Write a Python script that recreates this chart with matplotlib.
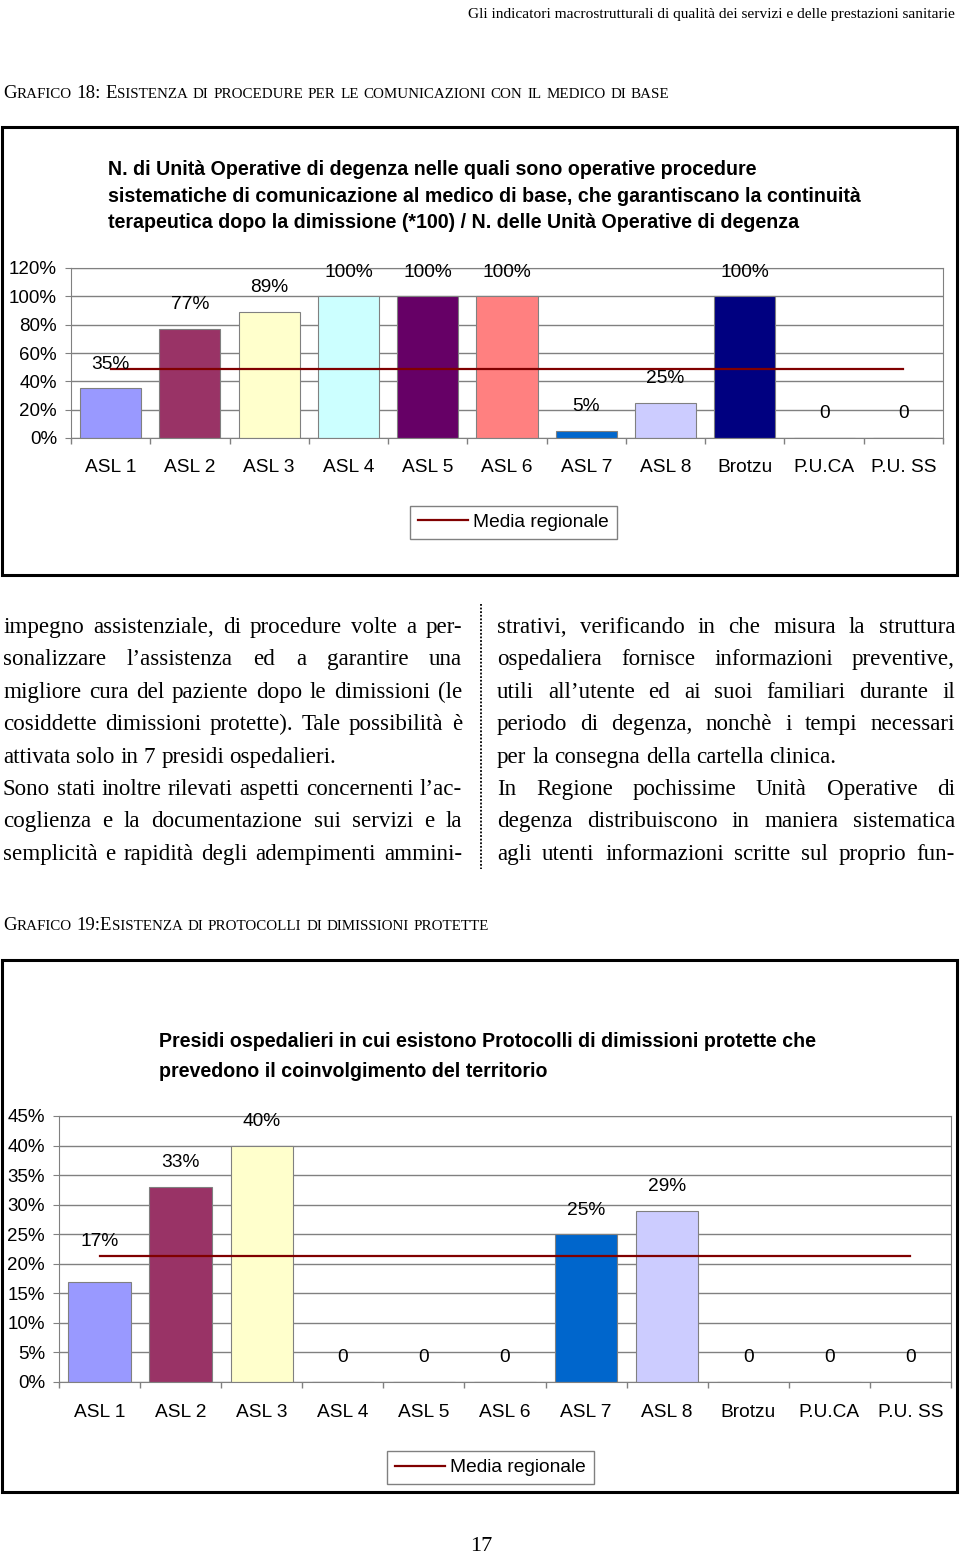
import numpy as np
import matplotlib
matplotlib.use('Agg')
import matplotlib.pyplot as plt
from matplotlib.patches import Rectangle
from matplotlib.lines import Line2D
from matplotlib.ticker import FuncFormatter

W, H = 960, 1554

# dati
categories = ["ASL 1", "ASL 2", "ASL 3", "ASL 4", "ASL 5", "ASL 6", "ASL 7", "ASL 8",
              "Brotzu", "P.U.CA", "P.U. SS"]
bar_colors = ['#9999FF', '#993366', '#FFFFCC', '#CCFFFF', '#660066', '#FF8080',
              '#0066CC', '#CCCCFF', '#000080', '#FFFFFF', '#FFFFFF']
g18_values = [0.35, 0.77, 0.89, 1.00, 1.00, 1.00, 0.05, 0.25, 1.00, 0, 0]
g18_media = 0.487
g19_values = [0.17, 0.33, 0.40, 0, 0, 0, 0.25, 0.29, 0, 0, 0]
g19_media = 0.213

header = "Gli indicatori macrostrutturali di qualità dei servizi e delle prestazioni sanitarie"
heading18 = "Grafico 18: Esistenza di procedure per le comunicazioni con il medico di base"
heading19 = "Grafico 19:Esistenza di protocolli di dimissioni protette"
title18 = ["N. di Unità Operative di degenza nelle quali sono operative procedure",
           "sistematiche di comunicazione al medico di base, che garantiscano la continuità",
           "terapeutica dopo la dimissione (*100) / N. delle Unità Operative di degenza"]
title19 = ["Presidi ospedalieri in cui esistono Protocolli di dimissioni protette che",
           "prevedono il coinvolgimento del territorio"]
col_left = ["impegno assistenziale, di procedure volte a per-",
            "sonalizzare l’assistenza ed a garantire una",
            "migliore cura del paziente dopo le dimissioni (le",
            "cosiddette dimissioni protette). Tale possibilità è",
            "attivata solo in 7 presidi ospedalieri.",
            "Sono stati inoltre rilevati aspetti concernenti l’ac-",
            "coglienza e la documentazione sui servizi e la",
            "semplicità e rapidità degli adempimenti ammini-"]
col_right = ["strativi, verificando in che misura la struttura",
             "ospedaliera fornisce informazioni preventive,",
             "utili all’utente ed ai suoi familiari durante il",
             "periodo di degenza, nonchè i tempi necessari",
             "per la consegna della cartella clinica.",
             "In Regione pochissime Unità Operative di",
             "degenza distribuiscono in maniera sistematica",
             "agli utenti informazioni scritte sul proprio fun-"]
# righe non giustificate (fine paragrafo)
last_lines = [4]

plt.rcParams['font.family'] = ['Liberation Sans', 'DejaVu Sans']
SERIF = ['Liberation Serif', 'DejaVu Serif']

fig = plt.figure(figsize=(W / 100, H / 100), dpi=100)
renderer = fig.canvas.get_renderer()


def fx(x):
    return x / W


def fy(y):
    return 1 - y / H


def tw(s, **kw):
    t = fig.text(0, 0, s, **kw)
    w = t.get_window_extent(renderer).width
    t.remove()
    return w


def smallcaps(x, y, s, width):
    # maiuscoletto: le minuscole diventano maiuscole piu' piccole
    def pieces(word):
        runs = []
        for ch in word:
            small = ch.islower()
            if runs and runs[-1][1] == small:
                runs[-1][0] += ch
            else:
                runs.append([ch, small])
        return runs

    def draw(size, do_draw):
        sp = tw('x x', family=SERIF, size=size) - tw('xx', family=SERIF, size=size)
        cx = x
        for word in s.split(' '):
            for txt, small in pieces(word):
                sz = size * 0.8 if small else size
                t = txt.upper() if small else txt
                w = tw(t, family=SERIF, size=sz)
                if do_draw:
                    fig.text(fx(cx), fy(y), t, family=SERIF, size=sz, va='baseline', ha='left')
                cx += w
            cx += sp
        return cx - sp - x

    w10 = draw(10, False)
    draw(10 * width / w10, True)


def justify(x0, x1, y, line, size, just=True):
    words = line.split(' ')
    ws = [tw(w, family=SERIF, size=size) for w in words]
    if just and len(words) > 1:
        gap = (x1 - x0 - sum(ws)) / (len(words) - 1)
    else:
        gap = tw('x x', family=SERIF, size=size) - tw('xx', family=SERIF, size=size)
    cx = x0
    for w, wd in zip(words, ws):
        fig.text(fx(cx), fy(y), w, family=SERIF, size=size, va='baseline', ha='left')
        cx += wd + gap


# intestazione pagina
hs = 10 * 486 / tw(header, family=SERIF, size=10)
fig.text(fx(955), fy(18), header, family=SERIF, size=hs, ha='right', va='baseline')
smallcaps(3, 98, heading18, 669)
smallcaps(3, 930, heading19, 487)

# riquadri
for top, bot in [(127, 575), (960, 1492)]:
    fig.add_artist(Rectangle((fx(2), fy(bot)), 955 / W, (bot - top) / H, transform=fig.transFigure,
                             fill=False, ec='black', lw=2.2))

# titoli grafici
ts = 10 * 651 / tw(title18[0], size=10, weight='bold')
for i, s in enumerate(title18):
    fig.text(fx(108), fy(175 + i * 26.5), s, size=ts, weight='bold', va='baseline')
for i, s in enumerate(title19):
    fig.text(fx(159), fy(1047 + i * 30), s, size=ts, weight='bold', va='baseline')


def bar_chart(box, values, media, ymax, step, legend_center, xpad, label_px=None):
    l, t, r, b = box
    ax = fig.add_axes([fx(l), fy(b), (r - l) / W, (b - t) / H])
    x = np.arange(len(categories))
    ax.bar(x, values, width=0.77, color=bar_colors, edgecolor='#808080', linewidth=0.8, zorder=2)
    line, = ax.plot(x, [media] * len(x), color='#800000', lw=1.6, zorder=3)
    for i, v in enumerate(values):
        lab = '0' if v == 0 else '%d%%' % round(v * 100)
        off = (label_px or {}).get(i, 24) * 0.72
        ax.annotate(lab, (i, v), xytext=(0, off), textcoords='offset points',
                    ha='center', va='center', size=13.8, zorder=4)
    ax.set_xlim(-0.5, len(categories) - 0.5)
    ax.set_ylim(0, ymax)
    ax.set_yticks(np.arange(0, ymax + step / 2, step))
    ax.yaxis.set_major_formatter(FuncFormatter(lambda v, p: '%d%%' % round(v * 100)))
    ax.set_xticks(x)
    ax.set_xticklabels(categories)
    ax.set_xticks(np.arange(-0.5, len(categories), 1), minor=True)
    ax.tick_params(axis='x', which='major', length=0, pad=xpad, labelsize=13.8)
    ax.tick_params(axis='x', which='minor', length=4, color='#808080', width=1)
    ax.tick_params(axis='y', length=4, color='#808080', pad=6, labelsize=13.5)
    ax.yaxis.grid(True, color='#808080', lw=1)
    ax.set_axisbelow(True)
    for sp in ax.spines.values():
        sp.set_color('#808080')
    ax.legend(handles=[Line2D([], [], color='#800000', lw=1.6)], labels=['Media regionale'],
              loc='center', bbox_to_anchor=(fx(legend_center[0]), fy(legend_center[1])),
              bbox_transform=fig.transFigure, fancybox=False, edgecolor='#808080',
              framealpha=1, fontsize=13.8, handlelength=2.6, handletextpad=0.3,
              borderpad=0.4)
    return ax


bar_chart((71, 268, 943, 438), g18_values, g18_media, 1.2, 0.2, (513.5, 522.5), 15)
bar_chart((59, 1116, 951, 1382), g19_values, g19_media, 0.45, 0.05, (490.5, 1467.5), 16,
          label_px={0: 40})

# testo su due colonne
widest = max(tw(s, family=SERIF, size=10) for s in col_left + col_right)
bs = 10 * 456 / widest
for i, s in enumerate(col_left):
    justify(3, 462, 633 + i * 32.4, s, bs, just=i not in last_lines)
for i, s in enumerate(col_right):
    justify(497, 955, 633 + i * 32.4, s, bs, just=i not in last_lines)
fig.add_artist(Line2D([fx(481), fx(481)], [fy(604), fy(869)], transform=fig.transFigure,
                      color='black', lw=1.3, ls=(0, (1, 1))))

fig.text(fx(481), fy(1551), "17", family=SERIF, size=16, ha='center', va='baseline')

fig.savefig('out.png', dpi=100)
